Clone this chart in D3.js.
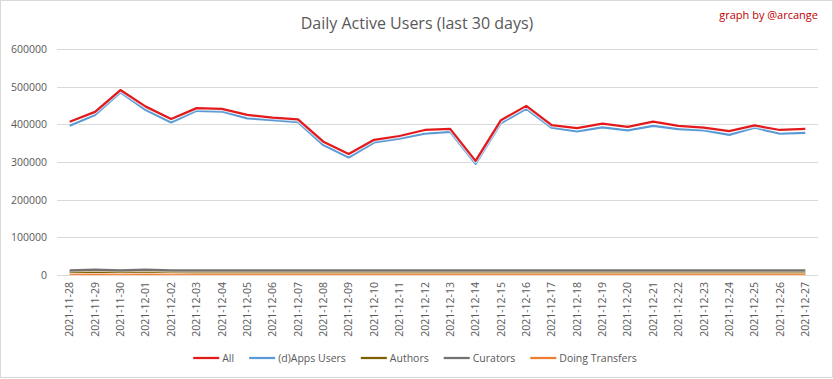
<!DOCTYPE html>
<html>
<head>
<meta charset="utf-8">
<script src="https://cdn.jsdelivr.net/npm/d3@7"></script>
<style>
  body { margin: 0; background: #fff; }
  text { font-family: "Open Sans", "Noto Sans", sans-serif; }
</style>
</head>
<body>
<script>
// categories
var dates = ["2021-11-28","2021-11-29","2021-11-30","2021-12-01","2021-12-02","2021-12-03",
  "2021-12-04","2021-12-05","2021-12-06","2021-12-07","2021-12-08","2021-12-09","2021-12-10",
  "2021-12-11","2021-12-12","2021-12-13","2021-12-14","2021-12-15","2021-12-16","2021-12-17",
  "2021-12-18","2021-12-19","2021-12-20","2021-12-21","2021-12-22","2021-12-23","2021-12-24",
  "2021-12-25","2021-12-26","2021-12-27"];

// series values
var allUsers = [407000,433000,491000,447000,414000,443000,441000,425000,418000,413000,354000,321000,
  359000,369000,385000,388000,303000,411000,449000,398000,390000,402000,393000,407000,396000,
  391000,382000,397000,385000,388000];
var appsUsers = [396000,425000,485000,438000,405000,436000,434000,416000,411000,406000,345000,312000,
  352000,362000,375000,380000,295000,403000,441000,391000,381000,392000,384000,396000,387000,
  384000,372000,391000,375000,377000];
var authors = [8000,8500,8000,8500,8000,7800,7800,7800,7800,7800,7800,7800,7800,7800,7800,7800,
  7800,7800,7800,7800,7800,7800,7800,7800,7800,7800,7800,7800,7800,7800];
var curators = [12500,14500,12500,14000,12000,12000,12000,12000,12000,12000,12000,12000,12000,12000,
  12000,12000,12000,12000,12000,12000,12000,12000,12000,12000,12000,12000,12000,12000,12000,12000];
var transfers = [2500,2500,2500,2500,2500,2500,2500,2500,2500,2500,2500,2500,2500,2500,2500,2500,
  2500,2500,2500,2500,2500,2500,2500,2500,2500,2500,2500,2500,2500,2500];

// tick labels
var yTicks = [0,100000,200000,300000,400000,500000,600000];

var seriesNames = ["All","(d)Apps Users","Authors","Curators","Doing Transfers"];
var seriesColors = ["#e31a1c","#5b9bd5","#7f6000","#767171","#ed7d31"];
var seriesData = [allUsers, appsUsers, authors, curators, transfers];

var W = 833, H = 379;
var margin = {top: 49, right: 15, bottom: 104, left: 57};
var width = W - margin.left - margin.right,
    height = H - margin.top - margin.bottom;

var svg = d3.select("body").append("svg")
    .attr("width", W)
    .attr("height", H);

// outer border
svg.append("rect")
    .attr("x", 0.5).attr("y", 0.5)
    .attr("width", W - 1).attr("height", H - 2)
    .attr("fill", "#fff").attr("stroke", "#d9d9d9");

// title
svg.append("text")
    .attr("x", 417).attr("y", 29)
    .attr("text-anchor", "middle")
    .attr("fill", "#595959")
    .style("font-size", "16px")
    .text("Daily Active Users (last 30 days)");

svg.append("text")
    .attr("x", 818).attr("y", 19)
    .attr("text-anchor", "end")
    .attr("fill", "#c00000")
    .style("font-size", "11px")
    .text("graph by @arcange");

var g = svg.append("g")
    .attr("transform", "translate(" + margin.left + "," + margin.top + ")");

var x = d3.scaleBand().domain(dates).range([0, width]);
var y = d3.scaleLinear().domain([0, 600000]).range([height, 0]);

// grid lines
g.selectAll(".grid")
  .data(yTicks)
  .enter().append("line")
    .attr("x1", 0).attr("x2", width)
    .attr("y1", function(d) { return Math.round(y(d)) + 0.5; })
    .attr("y2", function(d) { return Math.round(y(d)) + 0.5; })
    .attr("stroke", "#d9d9d9");

// y axis labels
var yAxis = g.append("g")
    .call(d3.axisLeft(y).tickValues(yTicks).tickSize(0).tickPadding(10).tickFormat(d3.format("d")));
yAxis.select(".domain").remove();
yAxis.selectAll("text").attr("fill", "#595959").style("font-size", "10.5px");

// x axis labels
var xAxis = g.append("g")
    .attr("transform", "translate(0," + height + ")")
    .call(d3.axisBottom(x).tickSize(0));
xAxis.select(".domain").remove();
xAxis.selectAll("text")
    .attr("fill", "#595959")
    .style("font-size", "10.5px")
    .attr("text-anchor", "end")
    .attr("transform", "rotate(-90)")
    .attr("x", -7).attr("y", 0).attr("dy", "0.35em");

var line = d3.line()
    .x(function(d, i) { return x(dates[i]) + x.bandwidth() / 2; })
    .y(function(d) { return y(d); });

// draw small series first, then blue and red on top
var order = [4, 2, 3, 1, 0];
order.forEach(function(k) {
  g.append("path")
    .datum(seriesData[k])
    .attr("fill", "none")
    .attr("stroke", "#fff")
    .attr("stroke-opacity", 0.6)
    .attr("stroke-width", 4.5)
    .attr("stroke-linejoin", "round")
    .attr("d", line);
  g.append("path")
    .datum(seriesData[k])
    .attr("fill", "none")
    .attr("stroke", seriesColors[k])
    .attr("stroke-width", 2.25)
    .attr("stroke-linejoin", "round")
    .attr("d", line);
});

// legend
var legend = svg.append("g").attr("transform", "translate(0,358)");
var items = legend.selectAll(".legend")
    .data(seriesNames)
    .enter().append("g")
    .attr("class", "legend");
items.append("line")
    .attr("x1", 0).attr("x2", 26)
    .attr("y1", 0).attr("y2", 0)
    .attr("stroke", function(d, i) { return seriesColors[i]; })
    .attr("stroke-width", 2.25);
items.append("text")
    .attr("x", 29).attr("dy", "0.35em")
    .attr("fill", "#595959")
    .style("font-size", "10.5px")
    .text(function(d) { return d; });

var widths = [];
items.each(function() {
  widths.push(29 + d3.select(this).select("text").node().getComputedTextLength());
});
var gap = 15;
var total = d3.sum(widths) + gap * (widths.length - 1);
var cx = 415 - total / 2;
items.attr("transform", function(d, i) {
  var pos = cx;
  cx += widths[i] + gap;
  return "translate(" + pos + ",0)";
});
</script>
</body>
</html>
